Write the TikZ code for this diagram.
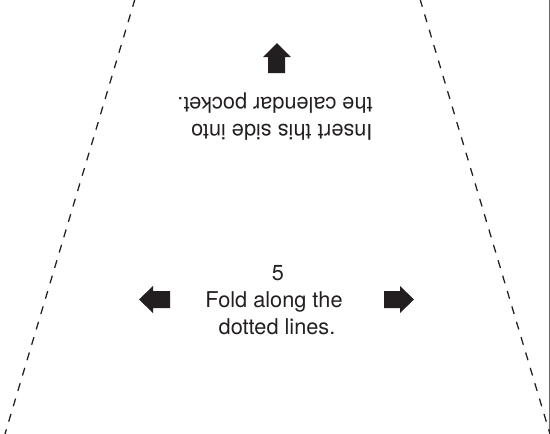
\documentclass[tikz,border=0pt]{standalone}
\usepackage{fontspec}
\setmainfont{TeX Gyre Heros}
\definecolor{ink}{HTML}{231F20}
\definecolor{edgegrey}{HTML}{6A6A6A}
\tikzset{
  px/.style={x=0.75pt,y=-0.75pt},
  foldline/.style={draw=ink,line width=0.95pt,dash pattern=on 6pt off 6.03pt},
  label/.style={text=ink,font=\fontsize{16.3pt}{20pt}\selectfont,inner sep=0pt},
  blockarrow/.style={fill=ink,draw=none}
}
\begin{document}
\begin{tikzpicture}[px]
\useasboundingbox (0,0) rectangle (550,433);
\coordinate (lt) at (135,-1);
\coordinate (lb) at (5,434);
\coordinate (rt) at (420,-1);
\coordinate (rb) at (550,434);
\coordinate (et) at (549.2,0);
\coordinate (eb) at (549.2,433);
\draw[edgegrey,line width=1pt] (et) -- (eb);
\draw[foldline] (lt) -- (lb);
\draw[foldline] (rt) -- (rb);
\node[label,rotate=180,align=left] (pocket) at (275,116.5) {Insert this side into\\the calendar pocket.};
\node[label,align=center] (fold) at (274,300) {\hspace{6pt}5\\Fold along the\\\ dotted lines.};
\fill[blockarrow] (277,43) -- (291,57) -- (285,57) -- (285,73) -- (268,73) -- (268,57) -- (263,57) -- cycle;
\fill[blockarrow] (139,299.5) -- (153,286) -- (153,291) -- (170,291) -- (170,308) -- (153,308) -- (153,313) -- cycle;
\fill[blockarrow] (414,299.5) -- (400,286) -- (400,291) -- (384,291) -- (384,308) -- (400,308) -- (400,313) -- cycle;
\end{tikzpicture}
\end{document}
